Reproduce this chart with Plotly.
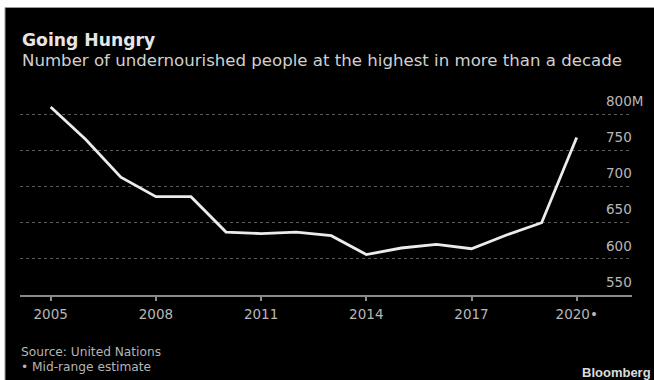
import plotly.graph_objects as go

years = [2005, 2006, 2007, 2008, 2009, 2010, 2011, 2012, 2013, 2014, 2015, 2016, 2017, 2018, 2019, 2020]
undernourished = [810, 765, 713, 686, 686, 637, 635, 637, 632, 606, 615, 620, 614, 633, 650, 768]

x_tickvals = [2005, 2008, 2011, 2014, 2017, 2020]
x_ticktext = ["2005", "2008", "2011", "2014", "2017", "2020•"]
y_tickvals = [550, 600, 650, 700, 750, 800]
y_ticktext = ["550", "600", "650", "700", "750", "800M"]

W, H = 654, 380
L, R, T, B = 20, 22, 85, 85
pw, ph = W - L - R, H - T - B

def px(xp):
    return (xp - L) / pw

def py(yp):
    return (H - B - yp) / ph

FONT = "DejaVu Sans"

fig = go.Figure()
fig.add_trace(go.Scatter(
    x=years, y=undernourished, mode="lines",
    line=dict(color="#ececec", width=2.8),
    hoverinfo="skip", showlegend=False,
))

fig.update_layout(
    width=W, height=H,
    margin=dict(l=L, r=R, t=T, b=B),
    paper_bgcolor="#000000",
    plot_bgcolor="#000000",
    font=dict(family=FONT, color="#bdbdbd"),
    xaxis=dict(
        range=[2004.125, 2021.577],
        tickvals=x_tickvals, ticktext=x_ticktext,
        ticks="outside", ticklen=4, tickwidth=1.5, tickcolor="#8a8a8a",
        showline=True, linecolor="#8a8a8a", linewidth=1.5,
        showgrid=False, zeroline=False,
        tickfont=dict(size=13.5, color="#b8b8b8", family=FONT),
        ticklabelstandoff=2,
    ),
    yaxis=dict(
        range=[550, 840.5],
        side="right",
        tickvals=y_tickvals, ticktext=y_ticktext,
        ticks="", showline=False, zeroline=False,
        showgrid=True, gridcolor="#5a5a5a", griddash="dot", gridwidth=1,
        tickfont=dict(size=13.5, color="#b8b8b8", family=FONT),
        ticklabelposition="outside",
        ticklabelstandoff=-27,
        ticklabelshift=-13,
    ),
    shapes=[
        dict(type="rect", xref="paper", yref="paper",
             x0=px(0), x1=px(W), y0=py(7.5), y1=py(0),
             fillcolor="#ffffff", line=dict(width=0), layer="above"),
        dict(type="rect", xref="paper", yref="paper",
             x0=px(0), x1=px(5), y0=py(H), y1=py(0),
             fillcolor="#ffffff", line=dict(width=0), layer="above"),
        dict(type="line", xref="paper", yref="paper",
             x0=px(5), x1=px(W), y0=py(7.5), y1=py(7.5),
             line=dict(color="#9a9a9a", width=1), layer="above"),
        dict(type="line", xref="paper", yref="paper",
             x0=px(5), x1=px(5), y0=py(H), y1=py(7.5),
             line=dict(color="#9a9a9a", width=1), layer="above"),
    ],
    annotations=[
        dict(text="<b>Going Hungry</b>", xref="paper", yref="paper",
             x=px(20), y=py(40), xanchor="left", yanchor="middle",
             showarrow=False, font=dict(size=17.2, color="#e6e6e6", family=FONT)),
        dict(text="Number of undernourished people at the highest in more than a decade",
             xref="paper", yref="paper",
             x=px(20), y=py(61), xanchor="left", yanchor="middle",
             showarrow=False, font=dict(size=16.6, color="#d0d0d0", family=FONT)),
        dict(text="Source: United Nations", xref="paper", yref="paper",
             x=px(19), y=py(352), xanchor="left", yanchor="middle",
             showarrow=False, font=dict(size=12.2, color="#b5b5b5", family=FONT)),
        dict(text="• Mid-range estimate", xref="paper", yref="paper",
             x=px(19), y=py(367), xanchor="left", yanchor="middle",
             showarrow=False, font=dict(size=12.2, color="#b5b5b5", family=FONT)),
        dict(text="<b>Bloomberg</b>", xref="paper", yref="paper",
             x=px(653), y=py(372), xanchor="right", yanchor="middle",
             showarrow=False, font=dict(size=13, color="#dcdcdc", family="Liberation Sans")),
    ],
)

fig.write_html("out.html")
